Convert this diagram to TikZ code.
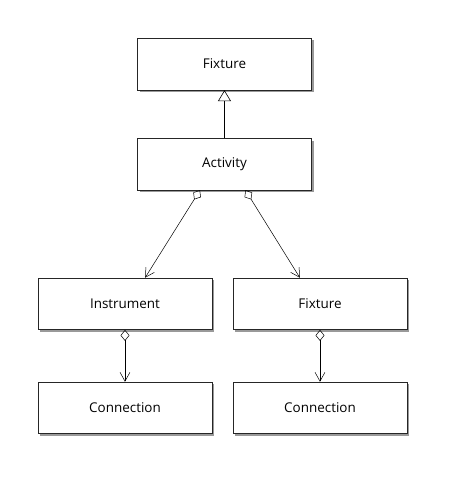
\documentclass[tikz,border=0pt]{standalone}
\usepackage{fontspec}
\setmainfont{Open Sans}
\usetikzlibrary{%
  arrows.meta,%
  calc,%
  shadows%
}
\tikzset{
  umlbox/.style={draw=black!85,line width=0.6pt,fill=white,
    minimum width=6.15cm,minimum height=1.82cm,
    font=\fontsize{13.5}{15}\selectfont,
    drop shadow={shadow xshift=2.2pt,shadow yshift=-2.2pt,fill=black!40,opacity=1}},
  inherit/.style={-{Triangle[open,length=11pt,width=13pt]},line width=0.6pt},
  aggr/.style={{Diamond[open,length=11pt,width=9pt]}-{Straight Barb[length=9pt,width=10pt]},line width=0.5pt}
}

\begin{document}
\begin{tikzpicture}
  \useasboundingbox (0,0) rectangle (15.84,-16.83);
  \node[umlbox] (fixture) at (7.92,-2.26) {Fixture};
  \node[umlbox] (activity) at (7.92,-5.79) {Activity};
  \node[umlbox] (instrument) at (4.41,-10.72) {Instrument};
  \node[umlbox] (fixturetwo) at (11.29,-10.72) {Fixture};
  \node[umlbox] (connone) at (4.41,-14.39) {Connection};
  \node[umlbox] (conntwo) at (11.29,-14.39) {Connection};
  % generalisation
  \draw[inherit] (activity) -- (fixture);
  % aggregations
  \coordinate (a) at ($(activity.south west)!0.36!(activity.south east)$);
  \coordinate (b) at ($(activity.south west)!0.62!(activity.south east)$);
  \coordinate (c) at ($(instrument.north west)!0.615!(instrument.north east)$);
  \coordinate (d) at ($(fixturetwo.north west)!0.385!(fixturetwo.north east)$);
  \draw[aggr] (a) -- (c);
  \draw[aggr] (b) -- (d);
  \draw[aggr] (instrument) -- (connone);
  \draw[aggr] (fixturetwo) -- (conntwo);
\end{tikzpicture}
\end{document}
